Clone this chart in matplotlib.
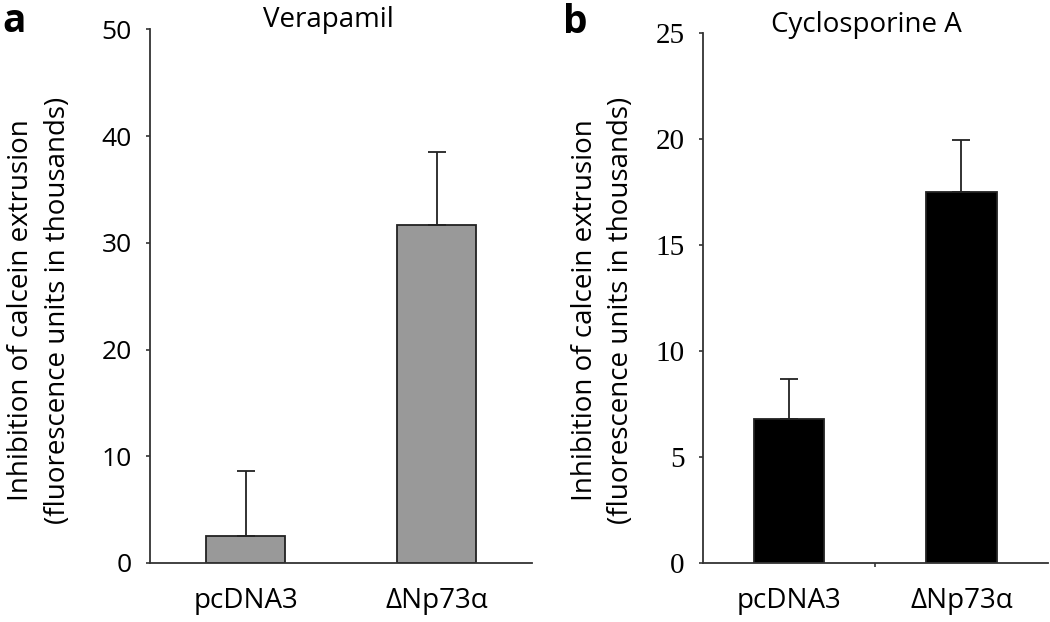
import matplotlib
matplotlib.use('Agg')
from matplotlib import pyplot as plt

groups = ['pcDNA3', 'ΔNp73α']

verapamil_mean = [2.5, 31.7]
verapamil_err = [6.1, 6.8]
cyclo_mean = [6.8, 17.5]
cyclo_err = [1.9, 2.45]

ylabel = 'Inhibition of calcein extrusion\n(fluorescence units in thousands)'
sans = 'Open Sans'
serif = 'Liberation Serif'

fig = plt.figure(figsize=(10.5, 6.22), dpi=100)

ax1 = fig.add_axes([0.1429, 0.0949, 0.3638, 0.858])
ax2 = fig.add_axes([0.6692, 0.0949, 0.3286, 0.8516])

def panel(ax, means, errs, color, ymax, step, tickfont):
    x = range(len(groups))
    ax.bar(x, means, width=0.41, color=color, edgecolor='#222222', linewidth=1.3,
           yerr=[[0]*len(errs), errs], capsize=6.5,
           error_kw=dict(ecolor='#222222', elinewidth=1.3, capthick=1.3), zorder=2)
    ax.set_xlim(-0.5, 1.5)
    ax.set_ylim(0, ymax)
    ax.set_yticks(range(0, ymax + 1, step))
    ax.set_xticks(list(x))
    ax.set_xticklabels(groups, fontsize=20, family=sans)
    for lab in ax.get_yticklabels():
        lab.set_family(tickfont)
        lab.set_fontsize(21 if tickfont == serif else 19)
    for s in ['top', 'right']:
        ax.spines[s].set_visible(False)
    for s in ['left', 'bottom']:
        ax.spines[s].set_linewidth(1.3)
        ax.spines[s].set_color('#333333')
    ax.tick_params(axis='y', length=3, width=1.2, color='#333333', pad=10)
    ax.tick_params(axis='x', length=0, pad=17)

panel(ax1, verapamil_mean, verapamil_err, '#999999', 50, 10, sans)
panel(ax2, cyclo_mean, cyclo_err, 'black', 25, 5, serif)
ax2.set_xticks([0.5], minor=True)
ax2.tick_params(axis='x', which='minor', length=3, width=1.2, color='#333333')

# y labels, titles and panel letters placed in figure coords
fig.text(0.0376, 0.5016, ylabel, rotation=90, ha='center', va='center',
         fontsize=20, family=sans, linespacing=1.42, multialignment='center')
fig.text(0.5743, 0.5016, ylabel, rotation=90, ha='center', va='center',
         fontsize=20, family=sans, linespacing=1.42, multialignment='center')

fig.text(0.3124, 0.9566, 'Verapamil', fontsize=20, family=sans, ha='center', va='baseline')
fig.text(0.8248, 0.9486, 'Cyclosporine A', fontsize=20, family=sans, ha='center', va='baseline')

fig.text(0.002, 0.9486, 'a', fontsize=28, fontweight='bold', family=sans, va='baseline')
fig.text(0.536, 0.947, 'b', fontsize=28, fontweight='bold', family=sans, va='baseline')

fig.savefig('out.png', dpi=100)
